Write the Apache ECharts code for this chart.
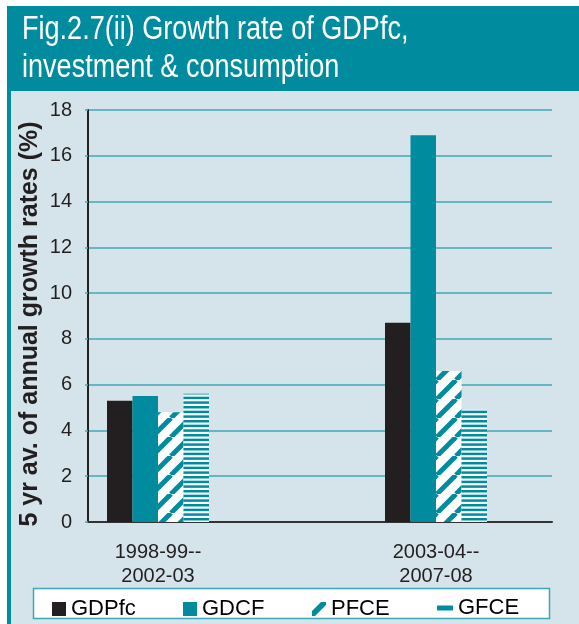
<!DOCTYPE html>
<html>
<head>
<meta charset="utf-8">
<script src="https://cdn.jsdelivr.net/npm/echarts@6/dist/echarts.min.js"></script>
<style>
html,body{margin:0;padding:0;background:#ffffff;}
#chart{width:579px;height:624px;}
</style>
</head>
<body>
<div id="chart"></div>
<script>
// ---- data ----
const categories = ['1998-99--\n2002-03', '2003-04--\n2007-08'];
const seriesNames = ['GDPfc', 'GDCF', 'PFCE', 'GFCE'];
const GDPfc = [5.3, 8.7];
const GDCF = [5.5, 16.9];
const PFCE = [4.8, 6.6];
const GFCE = [5.6, 4.9];
const yMin = 0, yMax = 18, yStep = 2;
const titleLines = ['Fig.2.7(ii) Growth rate of GDPfc,', 'investment & consumption'];
const yAxisTitle = '5 yr av. of annual growth rates (%)';

// ---- styles ----
const TEAL = '#008C9E';
const DARK = '#231F20';
const GRIDC = '#45A7B6';
const FONT = '"Liberation Sans", Arial, sans-serif';

function diagPattern() {
  const s = 19;
  const c = document.createElement('canvas');
  c.width = s; c.height = s;
  const g = c.getContext('2d');
  g.fillStyle = '#ffffff'; g.fillRect(0, 0, s, s);
  g.strokeStyle = TEAL; g.lineWidth = 5;
  for (let k = -1; k <= 1; k++) {
    g.beginPath(); g.moveTo(k * s, s); g.lineTo(k * s + s, 0); g.stroke();
  }
  return c;
}
function horizPattern() {
  const w = 4, h = 14;
  const c = document.createElement('canvas');
  c.width = w; c.height = h;
  const g = c.getContext('2d');
  g.fillStyle = '#ffffff'; g.fillRect(0, 0, w, h);
  g.fillStyle = TEAL;
  const p = h / 3;
  for (let i = 0; i < 3; i++) g.fillRect(0, i * p, w, 2.5);
  return c;
}

const chart = echarts.init(document.getElementById('chart'));
const barBase = {
  type: 'bar', xAxisIndex: 1, yAxisIndex: 1, barWidth: 25.5, barGap: '0%', clip: false
};
const legendBase = {
  top: 598, padding: 0, itemWidth: 14, itemHeight: 14,
  textStyle: { fontFamily: FONT, fontSize: 22, color: '#000' }
};
chart.setOption({
  animation: false,
  graphic: [
    { type: 'rect', z: -10, shape: { x: 7, y: 6, width: 572, height: 85 }, style: { fill: TEAL } },
    { type: 'rect', z: -10, shape: { x: 7, y: 91, width: 572, height: 533 }, style: { fill: '#D5E4EA' } },
    { type: 'rect', z: -9, shape: { x: 7, y: 91, width: 4, height: 533 }, style: { fill: TEAL } },
    { type: 'rect', z: -9, shape: { x: 33.5, y: 588.5, width: 516, height: 30 }, style: { fill: '#ffffff', stroke: '#3FA6B5', lineWidth: 1.5 } },
    { type: 'text', x: 22, y: 11, scaleX: 0.82, style: { text: titleLines.join('\n'), fill: '#ffffff', font: '33px "Liberation Sans", Arial, sans-serif', lineHeight: 38 } },
    { type: 'text', x: 30, y: 324, rotation: Math.PI / 2,
      style: { text: yAxisTitle, fill: DARK, font: 'bold 25px "Liberation Sans", Arial, sans-serif', align: 'center', verticalAlign: 'middle' } }
  ],
  grid: [
    { left: 88, right: 27, top: 110, bottom: 102 },
    { left: 19, right: 4, top: 110, bottom: 102 }
  ],
  xAxis: [
    { type: 'category', gridIndex: 0, data: categories,
      axisLine: { show: true, lineStyle: { color: '#333333', width: 2 } },
      axisTick: { show: false }, axisLabel: { show: false } },
    { type: 'category', gridIndex: 1, data: categories,
      axisLine: { show: false }, axisTick: { show: false },
      axisLabel: { fontFamily: FONT, fontSize: 20, lineHeight: 24, color: DARK, margin: 18 } }
  ],
  yAxis: [
    { type: 'value', gridIndex: 0, min: yMin, max: yMax, interval: yStep,
      axisLine: { show: true, lineStyle: { color: DARK, width: 2 } },
      axisTick: { show: true, length: 3, lineStyle: { color: GRIDC, width: 1.5 } },
      splitLine: { lineStyle: { color: GRIDC, width: 1.5 } },
      axisLabel: { fontFamily: FONT, fontSize: 20, color: DARK, margin: 16 } },
    { type: 'value', gridIndex: 1, min: yMin, max: yMax, interval: yStep, show: false }
  ],
  legend: [
    Object.assign({}, legendBase, { left: 52, data: [{ name: 'GDPfc', icon: 'rect' }] }),
    Object.assign({}, legendBase, { left: 183, data: [{ name: 'GDCF', icon: 'rect' }] }),
    Object.assign({}, legendBase, { left: 312, data: [{ name: 'PFCE', icon: 'path://M0,9 L9,0 L14,0 L14,3 L3,14 L0,14 Z', itemStyle: { color: TEAL } }] }),
    Object.assign({}, legendBase, { left: 437, top: 597, itemWidth: 16, itemHeight: 5, data: [{ name: 'GFCE', icon: 'rect', itemStyle: { color: TEAL } }] })
  ],
  series: [
    Object.assign({}, barBase, { name: seriesNames[0], data: GDPfc, itemStyle: { color: DARK } }),
    Object.assign({}, barBase, { name: seriesNames[1], data: GDCF, itemStyle: { color: TEAL } }),
    Object.assign({}, barBase, { name: seriesNames[2], data: PFCE, itemStyle: { color: { image: diagPattern(), repeat: 'repeat' } } }),
    Object.assign({}, barBase, { name: seriesNames[3], data: GFCE, itemStyle: { color: { image: horizPattern(), repeat: 'repeat' } } })
  ]
});
</script>
</body>
</html>
